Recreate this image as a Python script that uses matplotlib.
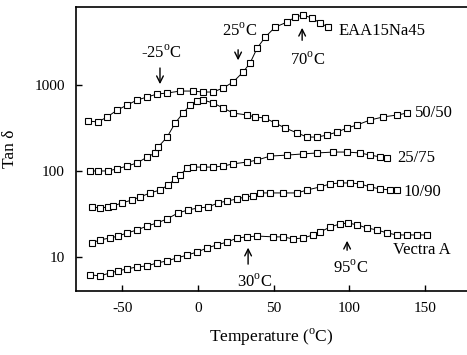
import matplotlib
matplotlib.use("Agg")
import matplotlib.pyplot as plt

plt.rcParams['font.family'] = ['Liberation Serif', 'DejaVu Serif']
plt.rcParams['mathtext.fontset'] = 'custom'
plt.rcParams['mathtext.rm'] = 'Liberation Serif'
plt.rcParams['axes.unicode_minus'] = False

# EAA15Na45
t_eaa = [-72.5, -65.9, -59.9, -53.3, -46.7, -40.1, -33.5, -26.9, -20.3, -11.7, -3.1, 3.5,
         10.1, 16.7, 23.3, 29.9, 34.5, 39.2, 44.5, 51.1, 59.0, 64.3, 69.6, 75.5, 80.8, 86.1]
y_eaa = [381, 372, 425, 511, 585, 670, 725, 786, 807, 851, 851, 829,
         829, 923, 1083, 1416, 1802, 2692, 3612, 4722, 5404, 6180, 6520, 6010, 5260, 4720]
# 50/50
t_50 = [-71.1, -65.9, -59.2, -53.3, -46.7, -40.1, -33.5, -28.2, -26.2, -20.3, -15.0, -9.7,
        -5.1, -0.5, 3.5, 10.1, 16.7, 23.3, 32.6, 37.8, 44.5, 51.1, 57.7, 65.6, 72.2, 78.8,
        85.4, 92.0, 98.6, 105.2, 113.8, 122.4, 131.6, 138.2]
y_50 = [100, 100, 100, 106, 114, 124, 145, 162, 190, 248, 361, 472,
        585, 651, 670, 618, 541, 472, 448, 425, 413, 361, 316, 277, 248, 248,
        262, 284, 316, 343, 392, 425, 448, 472]
# 25/75
t_25 = [-69.8, -64.5, -59.2, -55.9, -50.0, -43.4, -38.1, -31.5, -24.9, -19.6, -15.0, -11.7,
        -7.1, -3.1, 3.5, 10.1, 16.7, 23.3, 32.6, 39.2, 47.8, 59.0, 69.6, 78.8, 89.4, 98.6,
        107.2, 113.8, 120.4, 125.0]
y_25 = [38.1, 37.1, 38.1, 39.2, 42.5, 46.0, 49.9, 55.5, 60.1, 68.7, 80.7, 89.8,
        108, 111, 111, 111, 114, 121, 127, 134, 149, 153, 158, 162, 166, 166,
        162, 153, 146, 142]
# 10/90
t_10 = [-69.8, -64.5, -57.9, -52.6, -46.7, -40.1, -33.5, -26.9, -20.3, -13.0, -6.4, 0.2,
        6.8, 13.4, 19.4, 26.0, 31.2, 36.5, 41.1, 47.8, 56.3, 65.6, 72.2, 80.8, 87.4, 94.0,
        100.6, 107.2, 113.8, 120.4, 127.0, 131.6]
y_10 = [14.6, 15.8, 16.6, 17.5, 19.0, 20.6, 22.9, 24.8, 27.7, 32.5, 35.2, 37.1,
        38.1, 42.5, 44.8, 47.2, 49.9, 51.2, 55.5, 55.5, 55.5, 55.5, 60.1, 65.2, 70.7, 72.5,
        72.5, 70.7, 65.2, 61.8, 60.1, 60.1]
# Vectra A
t_va = [-71.1, -64.5, -57.9, -52.6, -46.7, -40.1, -33.5, -26.9, -20.3, -13.7, -7.1, -0.5,
        6.1, 12.7, 19.4, 26.0, 32.6, 39.2, 49.7, 56.3, 62.9, 69.6, 76.2, 80.8, 87.4, 94.0,
        99.3, 105.2, 111.8, 118.4, 125.0, 131.6, 138.2, 144.8, 151.5]
y_va = [6.18, 6.01, 6.52, 6.87, 7.25, 7.65, 7.85, 8.51, 8.98, 9.73, 10.5, 11.4,
        12.7, 13.8, 14.9, 16.6, 17.1, 17.5, 17.1, 17.1, 16.2, 16.6, 18.0, 19.5, 22.3, 24.2,
        24.8, 23.6, 21.7, 20.6, 19.0, 18.0, 18.0, 18.0, 18.0]

series = [(t_eaa, y_eaa), (t_50, y_50), (t_25, y_25), (t_10, y_10), (t_va, y_va)]

fig = plt.figure(figsize=(4.67, 3.55), dpi=100)
ax = fig.add_axes([0.163, 0.180, 0.837, 0.800])
for t, y in series:
    ax.plot(t, y, color='black', lw=0.7, marker='s', ms=5, mfc='white', mec='black', mew=0.8)

ax.set_yscale('log')
ax.set_xlim(-80.4, 177.8)
ax.set_ylim(4.0, 8070)
ax.set_xticks([-50, 0, 50, 100, 150])
ax.set_yticks([10, 100, 1000])
ax.set_yticklabels(['10', '100', '1000'])
ax.minorticks_off()
ax.tick_params(direction='in', length=4, width=1, labelsize=11, pad=8)
ax.spines['right'].set_visible(False)
for s in ['left', 'bottom', 'top']:
    ax.spines[s].set_linewidth(1.2)

ax.set_xlabel('Temperature ($^{\\rm o}$C)', fontsize=12.5, labelpad=8)
ax.set_ylabel('Tan δ', fontsize=12.5, labelpad=12)

arr = dict(arrowstyle='->', lw=1.0, color='black', mutation_scale=12)
ax.annotate('', xy=(-25, 950), xytext=(-25, 1700), arrowprops=arr)
ax.text(-24, 2350, '-25$^{\\rm o}$C', ha='center', va='center', fontsize=12)
ax.annotate('', xy=(26.6, 1800), xytext=(26.6, 2770), arrowprops=arr)
ax.text(27.3, 4250, '25$^{\\rm o}$C', ha='center', va='center', fontsize=12)
ax.annotate('', xy=(68.9, 4990), xytext=(68.9, 3080), arrowprops=arr)
ax.text(72.2, 1950, '70$^{\\rm o}$C', ha='center', va='center', fontsize=12)
ax.annotate('', xy=(98.6, 16.6), xytext=(98.6, 11.1), arrowprops=arr)
ax.text(100.6, 7.45, '95$^{\\rm o}$C', ha='center', va='center', fontsize=12)
ax.annotate('', xy=(33.2, 13.8), xytext=(33.2, 7.65), arrowprops=arr)
ax.text(37.2, 5.12, '30$^{\\rm o}$C', ha='center', va='center', fontsize=12)

ax.text(92.7, 4250, 'EAA15Na45', ha='left', va='center', fontsize=12)
ax.text(143.5, 472, '50/50', ha='left', va='center', fontsize=12)
ax.text(131.6, 142, '25/75', ha='left', va='center', fontsize=12)
ax.text(135.6, 57.0, '10/90', ha='left', va='center', fontsize=12)
ax.text(148.2, 12.05, 'Vectra A', ha='center', va='center', fontsize=12)

fig.savefig('out.png', dpi=100)
